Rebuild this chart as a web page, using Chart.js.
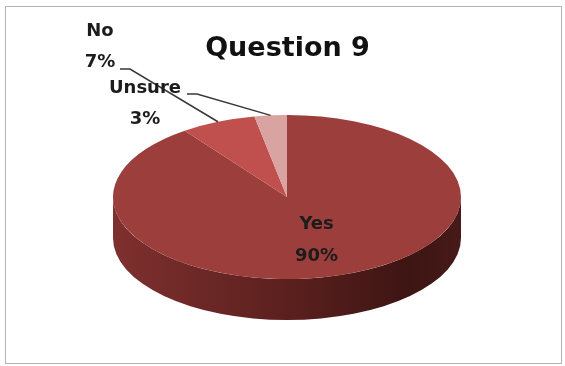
<!DOCTYPE html>
<html>
<head>
<meta charset="utf-8">
<script src="https://cdn.jsdelivr.net/npm/chart.js@4/dist/chart.umd.min.js"></script>
<style>
  body { margin: 0; background: #fff; }
  #wrap { width: 565px; height: 366px; }
</style>
</head>
<body>
<div id="wrap"><canvas id="q9" width="565" height="366"></canvas></div>
<script>
const categories = ['Yes', 'No', 'Unsure'];
const shares = [90, 7, 3];
const sliceColors = ['#9b3e3c', '#c0504d', '#d9a3a2'];

// flattened pie: top face ellipse and thickness of the rim
const disc = { cx: 287, cy: 197, rx: 174, ry: 82, depth: 41 };

// outside labels (No, Unsure) with elbowed leader lines
const outside = {
    1: { x: 100, y: 31, line: [[120, 69], [130, 69]] },
    2: { x: 145, y: 88, line: [[187, 94], [197, 94]] }
};

function onDisc(angle, f) {
    return {
        x: disc.cx + Math.cos(angle) * disc.rx * f,
        y: disc.cy + Math.sin(angle) * disc.ry * f
    };
}

const frame = {
    id: 'frame',
    beforeDraw(chart) {
        const ctx = chart.ctx;
        ctx.save();
        ctx.fillStyle = '#fff';
        ctx.fillRect(0, 0, chart.width, chart.height);
        ctx.strokeStyle = '#b4b4b4';
        ctx.lineWidth = 1;
        ctx.strokeRect(5.5, 6.5, 556, 357);
        ctx.restore();
    }
};

const pie3d = {
    id: 'pie3d',
    beforeDatasetsDraw(chart) {
        const ctx = chart.ctx;
        const arcs = chart.getDatasetMeta(0).data;

        // rim: only the front half (0..PI) can be seen
        const g = ctx.createLinearGradient(disc.cx - disc.rx, 0, disc.cx + disc.rx, 0);
        g.addColorStop(0, '#7e302e');
        g.addColorStop(0.5, '#5b201e');
        g.addColorStop(0.85, '#3d1513');
        g.addColorStop(1, '#461a18');
        ctx.save();
        ctx.fillStyle = g;
        arcs.forEach(a => {
            [-2 * Math.PI, 0, 2 * Math.PI].forEach(k => {
                const lo = Math.max(a.startAngle + k, 0);
                const hi = Math.min(a.endAngle + k, Math.PI);
                if (hi <= lo) return;
                ctx.beginPath();
                ctx.ellipse(disc.cx, disc.cy, disc.rx, disc.ry, 0, lo, hi);
                ctx.ellipse(disc.cx, disc.cy + disc.depth, disc.rx, disc.ry, 0, hi, lo, true);
                ctx.closePath();
                ctx.fill();
            });
        });
        ctx.restore();

        // squash the flat pie onto the top face
        const a0 = arcs[0];
        const R = a0.outerRadius;
        ctx.save();
        ctx.translate(disc.cx, disc.cy);
        ctx.scale(disc.rx / R, disc.ry / R);
        ctx.translate(-a0.x, -a0.y);
    },
    afterDatasetsDraw(chart) {
        chart.ctx.restore();
    }
};

const sliceLabels = {
    id: 'sliceLabels',
    afterDraw(chart) {
        const ctx = chart.ctx;
        const arcs = chart.getDatasetMeta(0).data;
        ctx.save();
        ctx.font = 'bold 18px "DejaVu Sans"';
        ctx.fillStyle = '#1c1c1c';
        ctx.textAlign = 'center';
        ctx.textBaseline = 'middle';
        arcs.forEach((a, i) => {
            const mid = (a.startAngle + a.endAngle) / 2;
            const pct = shares[i] + '%';
            const spot = outside[i];
            if (!spot) {
                const p = onDisc(mid, 0.55);
                ctx.fillText(categories[i], p.x, p.y - 16);
                ctx.fillText(pct, p.x, p.y + 16);
                return;
            }
            ctx.fillText(categories[i], spot.x, spot.y);
            ctx.fillText(pct, spot.x, spot.y + 31);
            const end = onDisc(mid, 1);
            ctx.strokeStyle = '#383838';
            ctx.lineWidth = 1.5;
            ctx.beginPath();
            ctx.moveTo(spot.line[0][0], spot.line[0][1]);
            ctx.lineTo(spot.line[1][0], spot.line[1][1]);
            ctx.lineTo(end.x, end.y);
            ctx.stroke();
        });
        ctx.restore();
    }
};

new Chart(document.getElementById('q9'), {
    type: 'pie',
    data: {
        labels: categories,
        datasets: [{
            data: shares,
            backgroundColor: sliceColors,
            borderWidth: 0,
            clip: false
        }]
    },
    options: {
        responsive: false,
        animation: false,
        events: [],
        layout: { padding: { left: 10, right: 0, top: 0, bottom: 0 } },
        plugins: {
            legend: { display: false },
            tooltip: { enabled: false },
            title: {
                display: true,
                text: 'Question 9',
                color: '#111',
                font: { family: 'DejaVu Sans', size: 27, weight: 'bold', lineHeight: 1.2 },
                padding: { top: 33, bottom: 0 }
            }
        }
    },
    plugins: [frame, pie3d, sliceLabels]
});
</script>
</body>
</html>
